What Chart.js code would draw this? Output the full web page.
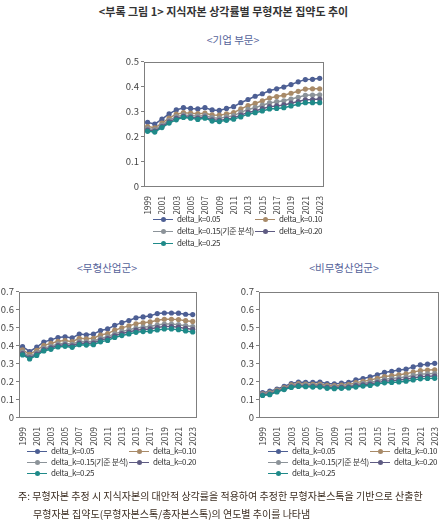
<!DOCTYPE html>
<html>
<head>
<meta charset="utf-8">
<script src="https://cdn.jsdelivr.net/npm/chart.js@4.4.1/dist/chart.umd.min.js"></script>
<style>
  body { margin: 0; background: #fff; font-family: "Noto Sans CJK KR", "Noto Sans", sans-serif; }
  #page { position: relative; width: 447px; height: 521px; overflow: hidden; }
  .abs { position: absolute; }
  .title { left: 0; width: 447px; top: 3px; text-align: center; font-size: 11px; font-weight: bold; color: #333; }
  .sub { font-size: 10.5px; color: #55639a; text-align: center; width: 160px; }
  .legend-item { position: absolute; font-size: 8px; color: #333; letter-spacing: -0.4px; white-space: nowrap; line-height: 10px; }
  .legend-item .ln { position: absolute; left: -24px; top: 4.5px; width: 20px; height: 1.3px; }
  .legend-item .dt { position: absolute; left: 7.5px; top: -2px; width: 5px; height: 5px; border-radius: 50%; }
  .note { font-size: 10px; color: #3d2e22; white-space: nowrap; }
</style>
</head>
<body>
<div id="page">
  <div class="abs title">&lt;부록 그림 1&gt; 지식자본 상각률별 무형자본 집약도 추이</div>
  <div class="abs sub" style="left:153px; top:32px;">&lt;기업 부문&gt;</div>
  <div class="abs sub" style="left:27px; top:260px;">&lt;무형산업군&gt;</div>
  <div class="abs sub" style="left:264px; top:260px;">&lt;비무형산업군&gt;</div>

  <canvas id="chartFirm" class="abs" width="222" height="160" style="left:110px; top:54px;"></canvas>
  <canvas id="chartIntan" class="abs" width="205" height="162" style="left:0px; top:284px;"></canvas>
  <canvas id="chartNonIntan" class="abs" width="222" height="162" style="left:225px; top:284px;"></canvas>

  <div id="legendFirm"></div>
  <div id="legendIntan"></div>
  <div id="legendNonIntan"></div>

  <div class="abs note" style="left:18px; top:488px;">주: 무형자본 추정 시 지식자본의 대안적 상각률을 적용하여 추정한 무형자본스톡을 기반으로 산출한</div>
  <div class="abs note" style="left:33px; top:506px;">무형자본 집약도(무형자본스톡/총자본스톡)의 연도별 추이를 나타냄</div>
</div>

<script>
// --- Data ---
const years = ['1999','2000','2001','2002','2003','2004','2005','2006','2007','2008','2009','2010','2011',
               '2012','2013','2014','2015','2016','2017','2018','2019','2020','2021','2022','2023'];
const seriesLabels = ['delta_k=0.05', 'delta_k=0.10', 'delta_k=0.15(기준 분석)', 'delta_k=0.20', 'delta_k=0.25'];
const seriesColors = ['#4d5f94', '#a88a68', '#8c9399', '#5e5b82', '#1f8a89'];

// 기업 부문
const firm05 = [0.256,0.249,0.269,0.290,0.306,0.315,0.312,0.310,0.315,0.306,0.304,0.312,0.319,0.335,0.348,0.361,0.371,0.383,0.391,0.398,0.408,0.419,0.428,0.429,0.433];
const firm10 = [0.239,0.234,0.253,0.273,0.289,0.295,0.293,0.291,0.293,0.286,0.285,0.290,0.295,0.310,0.323,0.332,0.343,0.354,0.360,0.365,0.373,0.381,0.390,0.391,0.391];
const firm15 = [0.231,0.227,0.245,0.264,0.279,0.286,0.284,0.281,0.284,0.275,0.273,0.278,0.283,0.296,0.308,0.315,0.325,0.334,0.339,0.343,0.350,0.357,0.365,0.366,0.367];
const firm20 = [0.225,0.221,0.239,0.258,0.272,0.280,0.277,0.273,0.277,0.266,0.264,0.269,0.274,0.285,0.296,0.302,0.311,0.319,0.322,0.326,0.333,0.340,0.347,0.348,0.350];
const firm25 = [0.220,0.217,0.235,0.253,0.266,0.276,0.273,0.268,0.273,0.261,0.259,0.264,0.269,0.278,0.289,0.295,0.302,0.310,0.312,0.315,0.322,0.329,0.335,0.335,0.335];

// 무형산업군
const intan05 = [0.393,0.366,0.391,0.419,0.431,0.444,0.448,0.442,0.463,0.459,0.463,0.483,0.492,0.512,0.527,0.539,0.554,0.559,0.565,0.578,0.581,0.581,0.580,0.574,0.572];
const intan10 = [0.375,0.350,0.373,0.400,0.411,0.423,0.427,0.421,0.440,0.437,0.440,0.458,0.466,0.485,0.498,0.509,0.521,0.526,0.531,0.541,0.546,0.546,0.544,0.538,0.534];
const intan15 = [0.362,0.338,0.359,0.385,0.395,0.408,0.412,0.406,0.423,0.420,0.423,0.440,0.448,0.465,0.477,0.487,0.497,0.502,0.506,0.514,0.519,0.519,0.516,0.510,0.505];
const intan20 = [0.354,0.330,0.351,0.376,0.386,0.399,0.403,0.397,0.413,0.411,0.413,0.430,0.438,0.454,0.466,0.475,0.485,0.489,0.492,0.500,0.505,0.505,0.502,0.495,0.490];
const intan25 = [0.347,0.324,0.344,0.369,0.378,0.391,0.395,0.389,0.404,0.402,0.404,0.420,0.428,0.444,0.455,0.464,0.473,0.477,0.479,0.486,0.492,0.492,0.488,0.481,0.475];

// 비무형산업군
const non05 = [0.136,0.144,0.156,0.171,0.187,0.195,0.193,0.193,0.195,0.187,0.185,0.189,0.193,0.207,0.215,0.224,0.236,0.249,0.255,0.262,0.267,0.280,0.291,0.295,0.300];
const non10 = [0.130,0.137,0.150,0.164,0.179,0.186,0.184,0.183,0.184,0.177,0.175,0.178,0.181,0.192,0.199,0.206,0.216,0.226,0.231,0.236,0.241,0.251,0.259,0.262,0.264];
const non15 = [0.126,0.132,0.146,0.159,0.173,0.180,0.178,0.176,0.177,0.170,0.168,0.170,0.173,0.182,0.188,0.193,0.202,0.211,0.215,0.219,0.223,0.232,0.239,0.241,0.243];
const non20 = [0.123,0.128,0.143,0.156,0.169,0.175,0.173,0.171,0.172,0.165,0.163,0.165,0.167,0.175,0.180,0.184,0.192,0.200,0.203,0.207,0.211,0.218,0.225,0.227,0.229];
const non25 = [0.120,0.125,0.140,0.153,0.165,0.171,0.169,0.167,0.167,0.160,0.158,0.160,0.162,0.167,0.173,0.176,0.184,0.191,0.193,0.196,0.200,0.207,0.213,0.215,0.216];

// Draws the frame around the plot area
const frameBox = {
    id: 'frameBox',
    afterDraw(chart) {
        const { ctx, chartArea: a } = chart;
        ctx.save();
        ctx.strokeStyle = '#7f7f7f';
        ctx.lineWidth = 1;
        ctx.strokeRect(Math.round(a.left) + 0.5, Math.round(a.top) + 0.5,
                       Math.round(a.right - a.left), Math.round(a.bottom - a.top));
        ctx.restore();
    }
};

/**
 * Builds one line chart panel.
 */
function makeChart(canvasId, seriesList, yMax, yAxisWidth, xAxisHeight) {
    const datasets = seriesList.map((values, i) => ({
        label: seriesLabels[i],
        data: values,
        borderColor: seriesColors[i],
        backgroundColor: seriesColors[i],
        borderWidth: 1.5,
        pointRadius: 2.6,
        pointHoverRadius: 2.6,
        pointBorderWidth: 0,
        tension: 0,
        order: 4 - i
    }));

    return new Chart(document.getElementById(canvasId), {
        type: 'line',
        data: { labels: years, datasets: datasets },
        plugins: [frameBox],
        options: {
            responsive: false,
            animation: false,
            layout: { padding: { top: 1, right: 5, left: 0, bottom: 0 } },
            plugins: { legend: { display: false }, tooltip: { enabled: false } },
            scales: {
                x: {
                    offset: true,
                    grid: { display: false },
                    border: { display: false },
                    afterFit: s => { s.height = xAxisHeight; },
                    ticks: {
                        autoSkip: false,
                        minRotation: 90,
                        maxRotation: 90,
                        padding: 2,
                        color: '#444',
                        font: { family: 'Noto Sans CJK KR', size: 8.5 },
                        callback: (val, i) => (i % 2 === 0 ? years[i] : '')
                    }
                },
                y: {
                    min: 0,
                    max: yMax,
                    grid: { drawOnChartArea: false, tickLength: 3, color: '#7f7f7f' },
                    border: { display: false },
                    afterFit: s => { s.width = yAxisWidth; },
                    ticks: {
                        stepSize: 0.1,
                        padding: 2,
                        color: '#444',
                        font: { family: 'Noto Sans CJK KR', size: 9.5 },
                        callback: v => (Math.round(v * 10) / 10).toString()
                    }
                }
            }
        }
    });
}

/**
 * Writes an HTML legend in two columns.
 */
function makeLegend(containerId, col1, col2, rows) {
    const box = document.getElementById(containerId);
    seriesLabels.forEach((label, i) => {
        const item = document.createElement('div');
        item.className = 'legend-item';
        item.style.left = (i % 2 === 0 ? col1 : col2) + 'px';
        item.style.top = (rows[Math.floor(i / 2)] - 5) + 'px';
        item.innerHTML = `<span class="ln" style="background:${seriesColors[i]}"><span class="dt" style="background:${seriesColors[i]}"></span></span>${label}`;
        box.appendChild(item);
    });
}

makeChart('chartFirm', [firm05, firm10, firm15, firm20, firm25], 0.5, 34, 28);
makeChart('chartIntan', [intan05, intan10, intan15, intan20, intan25], 0.7, 19, 29);
makeChart('chartNonIntan', [non05, non10, non15, non20, non25], 0.7, 34, 29);

makeLegend('legendFirm', 177, 279, [219, 231, 243]);
makeLegend('legendIntan', 51, 153, [451, 462, 473]);
makeLegend('legendNonIntan', 292, 394, [451, 462, 473]);
</script>
</body>
</html>
